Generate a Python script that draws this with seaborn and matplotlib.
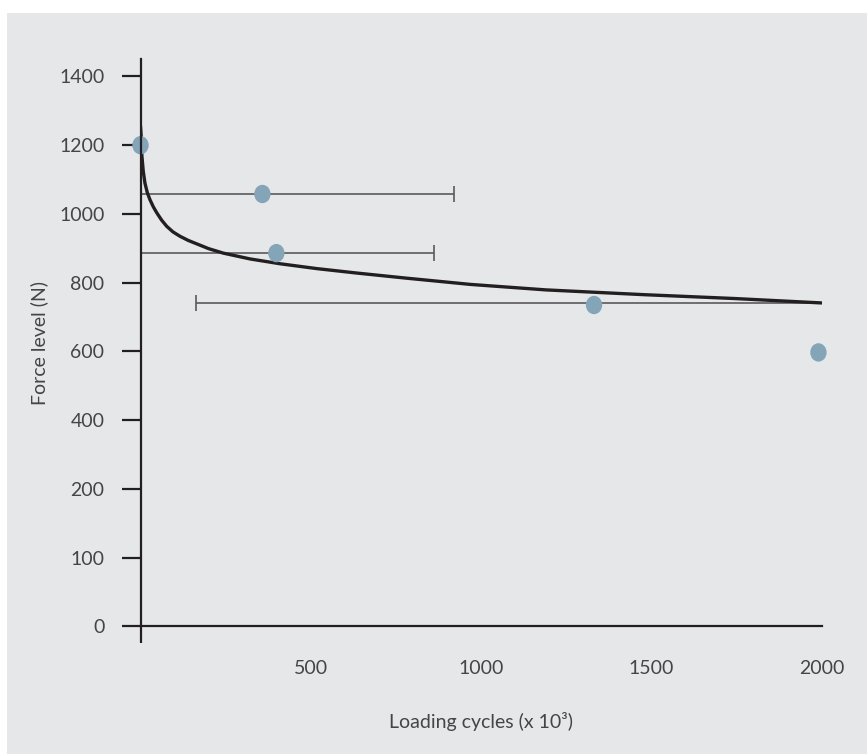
import numpy as np
import pandas as pd
import seaborn as sns
import matplotlib.pyplot as plt
from matplotlib.path import Path
from matplotlib.patches import Rectangle

# fitted curve (cycles x 10^3, force N)
curve_x = [0, 2, 4, 8, 13, 20, 28, 38, 48, 62, 77, 95, 116, 140, 165, 200, 243, 322, 410,
           517, 635, 782, 968, 1190, 1480, 1741, 2000]
curve_y = [1255, 1225, 1170, 1125, 1090, 1062, 1041, 1020, 1003, 982, 964, 948, 935, 923, 913,
           899, 886, 869, 855, 841, 828, 813, 795, 779, 765, 754, 741]

# test points
pts_x = [0, 358, 399, 1332, 1991]
pts_y = [1200, 1058, 886, 735, 597]

# horizontal scatter bars (left end, right end, level)
bar_lo = [0, 0, 164]
bar_hi = [921, 862, 2000]
bar_y = [1058, 886, 741]
# only these ends show a cap
cap_x = [921, 862, 164]
cap_y = [1058, 886, 741]

ytick_pos = [-200, 0, 200, 400, 600, 800, 1000, 1200, 1400]
ytick_lab = ['0', '100', '200', '400', '600', '800', '1000', '1200', '1400']
xtick_pos = [500, 1000, 1500, 2000]

bg = '#e6e7e8'
ink = '#231f20'
txt = '#454545'
dot = '#84a4b8'

sns.set_style('white')
plt.rcParams['font.family'] = ['Lato', 'DejaVu Sans']

fig = plt.figure(figsize=(8.67, 7.54), dpi=100)
fig.patch.set_facecolor('white')
fig.patches.append(Rectangle((7 / 867, 0), 1 - 7 / 867, (754 - 13) / 754,
                             transform=fig.transFigure, facecolor=bg,
                             edgecolor='none', zorder=-10))

ax = fig.add_axes([140.5 / 867, (754 - 626.3) / 754, 681 / 867, 567 / 754])
ax.set_zorder(1)
ax.set_facecolor('none')

# bars
ax.hlines(bar_y, bar_lo, bar_hi, color='#5a5a5c', lw=1.2, zorder=2)
ax.plot(cap_x, cap_y, ls='none', marker='|', ms=11, mew=1.2, color='#5a5a5c', zorder=2)

# curve
df_c = pd.DataFrame({'x': curve_x, 'y': curve_y})
sns.lineplot(data=df_c, x='x', y='y', ax=ax, color=ink, lw=2.4, zorder=3,
             sort=False, estimator=None)
ax.lines[-1].set_solid_capstyle('round')
ax.lines[-1].set_solid_joinstyle('round')

# points (slightly tall ellipses)
circ = Path.unit_circle()
ell = Path(circ.vertices * np.array([0.89, 1.0]), circ.codes)
df_p = pd.DataFrame({'x': pts_x, 'y': pts_y})
sns.scatterplot(data=df_p, x='x', y='y', ax=ax, marker=ell, s=175, color=dot,
                edgecolor='none', linewidth=0, zorder=4, clip_on=False)

ax.set_xlim(0, 2000)
ax.set_ylim(-200, 1450)

for s in ['top', 'right']:
    ax.spines[s].set_visible(False)
for s in ['left', 'bottom']:
    ax.spines[s].set_color(ink)
    ax.spines[s].set_linewidth(1.6)
    ax.spines[s].set_zorder(5)

ax.set_yticks(ytick_pos)
ax.set_yticklabels(ytick_lab)
ax.tick_params(axis='y', length=14, width=1.6, color=ink, pad=12,
               labelsize=14, labelcolor=txt, left=True)

ax.set_xticks(xtick_pos)
ax.set_xticklabels([str(v) for v in xtick_pos])
ax.set_xticks([0, 2000], minor=True)
ax.tick_params(axis='x', which='major', length=0, pad=24, labelsize=14, labelcolor=txt)
ax.tick_params(axis='x', which='minor', length=12, width=1.6, color=ink, bottom=True)

ax.set_xlabel('Loading cycles (x 10³)', fontsize=14, color=txt)
ax.set_ylabel('Force level (N)', fontsize=14, color=txt)
ax.xaxis.set_label_coords(0.5, -0.152)
ax.yaxis.set_label_coords(-0.135, 0.5)

fig.savefig('out.png', dpi=100, facecolor=fig.get_facecolor())
